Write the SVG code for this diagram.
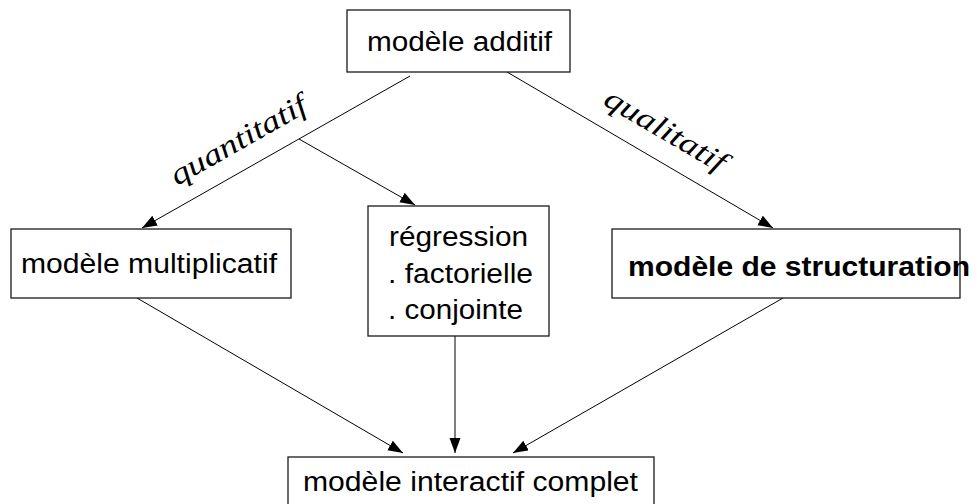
<svg xmlns="http://www.w3.org/2000/svg" width="977" height="504" viewBox="0 0 977 504">
<style>
.box{fill:#fff;stroke:#1a1a1a;stroke-width:1.3}
.t{font-family:"Liberation Sans",Arial,sans-serif;font-size:27px;fill:#000}
.b{font-weight:bold}
.lbl{font-family:"Liberation Serif","DejaVu Serif",serif;font-style:italic;font-size:30px;fill:#000}
.c{stroke:#000;stroke-width:1;fill:none}
</style>
<defs>
<marker id="ah" markerUnits="userSpaceOnUse" markerWidth="16" markerHeight="12" refX="15" refY="5.5" orient="auto">
<path d="M0,0 L15,5.5 L0,11 z" fill="#000"/>
</marker>
</defs>
<rect width="977" height="504" fill="#fff"/>
<g id="connectors">
<line class="c" x1="410" y1="76" x2="142" y2="228" marker-end="url(#ah)"/>
<line class="c" x1="299" y1="139" x2="415" y2="205" marker-end="url(#ah)"/>
<line class="c" x1="507" y1="72" x2="773" y2="228" marker-end="url(#ah)"/>
<line class="c" x1="137" y1="298" x2="403" y2="453" marker-end="url(#ah)"/>
<line class="c" x1="455" y1="336" x2="455" y2="453" marker-end="url(#ah)"/>
<line class="c" x1="783" y1="298" x2="513" y2="453" marker-end="url(#ah)"/>
<text class="lbl" transform="translate(177,186) rotate(-29.6)" textLength="152" lengthAdjust="spacingAndGlyphs">quantitatif</text>
<text class="lbl" transform="translate(602,104) rotate(30.4)" textLength="136" lengthAdjust="spacingAndGlyphs">qualitatif</text>
</g>
<g id="additif">
<rect class="box" x="347" y="10" width="223" height="62"/>
<text class="t" x="367" y="51" textLength="185" lengthAdjust="spacingAndGlyphs">modèle additif</text>
</g>
<g id="multiplicatif">
<rect class="box" x="11" y="229" width="280" height="69"/>
<text class="t" x="21" y="273" textLength="256" lengthAdjust="spacingAndGlyphs">modèle multiplicatif</text>
</g>
<g id="regression">
<rect class="box" x="368" y="206" width="181" height="130"/>
<text class="t" x="389" y="246" textLength="139" lengthAdjust="spacingAndGlyphs">régression</text>
<text class="t" x="388" y="283" textLength="145" lengthAdjust="spacingAndGlyphs">. factorielle</text>
<text class="t" x="388" y="319" textLength="135" lengthAdjust="spacingAndGlyphs">. conjointe</text>
</g>
<g id="structuration">
<rect class="box" x="612" y="229" width="348" height="69"/>
<text class="t b" x="628" y="276" textLength="342" lengthAdjust="spacingAndGlyphs">modèle de structuration</text>
</g>
<g id="interactif">
<rect class="box" x="288" y="457" width="366" height="60"/>
<text class="t" x="303" y="491" textLength="335" lengthAdjust="spacingAndGlyphs">modèle interactif complet</text>
</g>
</svg>
